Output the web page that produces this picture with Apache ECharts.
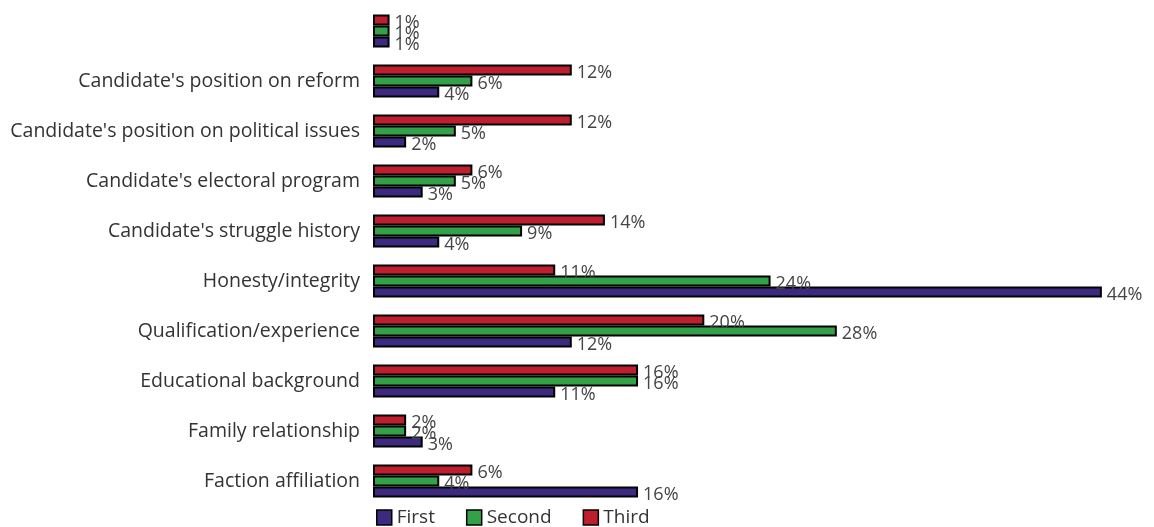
<!DOCTYPE html>
<html><head><meta charset="utf-8">
<script src="https://cdn.jsdelivr.net/npm/echarts@6/dist/echarts.min.js"></script>
<style>html,body{margin:0;padding:0;background:#fff}#c{width:1154px;height:527px}</style>
</head><body><div id="c"></div>
<script>
const categories = ["Faction affiliation","Family relationship","Educational background","Qualification/experience","Honesty/integrity","Candidate's struggle history","Candidate's electoral program","Candidate's position on political issues","Candidate's position on reform",""];
const first  = [16, 3, 11, 12, 44, 4, 3, 2, 4, 1];
const second = [4, 2, 16, 28, 24, 9, 5, 5, 6, 1];
const third  = [6, 2, 16, 20, 11, 14, 6, 12, 12, 1];
const seriesNames = ["First","Second","Third"];
const colors = ["#3c2a80","#33a148","#be1e2e"];
const font = "'Open Sans', 'Noto Sans', sans-serif";
const chart = echarts.init(document.getElementById('c'));
const mk = (name, data, color) => ({
  name, type: 'bar', data, barWidth: 11, barGap: '0%',
  itemStyle: {color, borderColor: '#000', borderWidth: 2},
  label: {show: true, position: 'right', distance: 5, offset: [0, 3], formatter: '{c}%', color: '#444', fontSize: 18, fontFamily: font},
  animation: false
});
chart.setOption({
  animation: false,
  grid: {left: 373, right: 19, top: 6, bottom: 21, containLabel: false},
  xAxis: {type: 'value', min: 0, max: 46, show: false},
  yAxis: {type: 'category', data: categories, axisLine: {show: false}, axisTick: {show: false},
    axisLabel: {fontSize: 19.5, color: '#333', fontFamily: font, margin: 13}},
  legend: {top: 503, left: 371, itemWidth: 15, itemHeight: 15, itemGap: 31, icon: 'rect',
    textStyle: {fontSize: 19, color: '#333', fontFamily: font},
    itemStyle: {borderColor: '#000', borderWidth: 1.5}, data: seriesNames},
  series: [mk(seriesNames[2], third, colors[2]), mk(seriesNames[1], second, colors[1]), mk(seriesNames[0], first, colors[0])]
});
</script></body></html>
